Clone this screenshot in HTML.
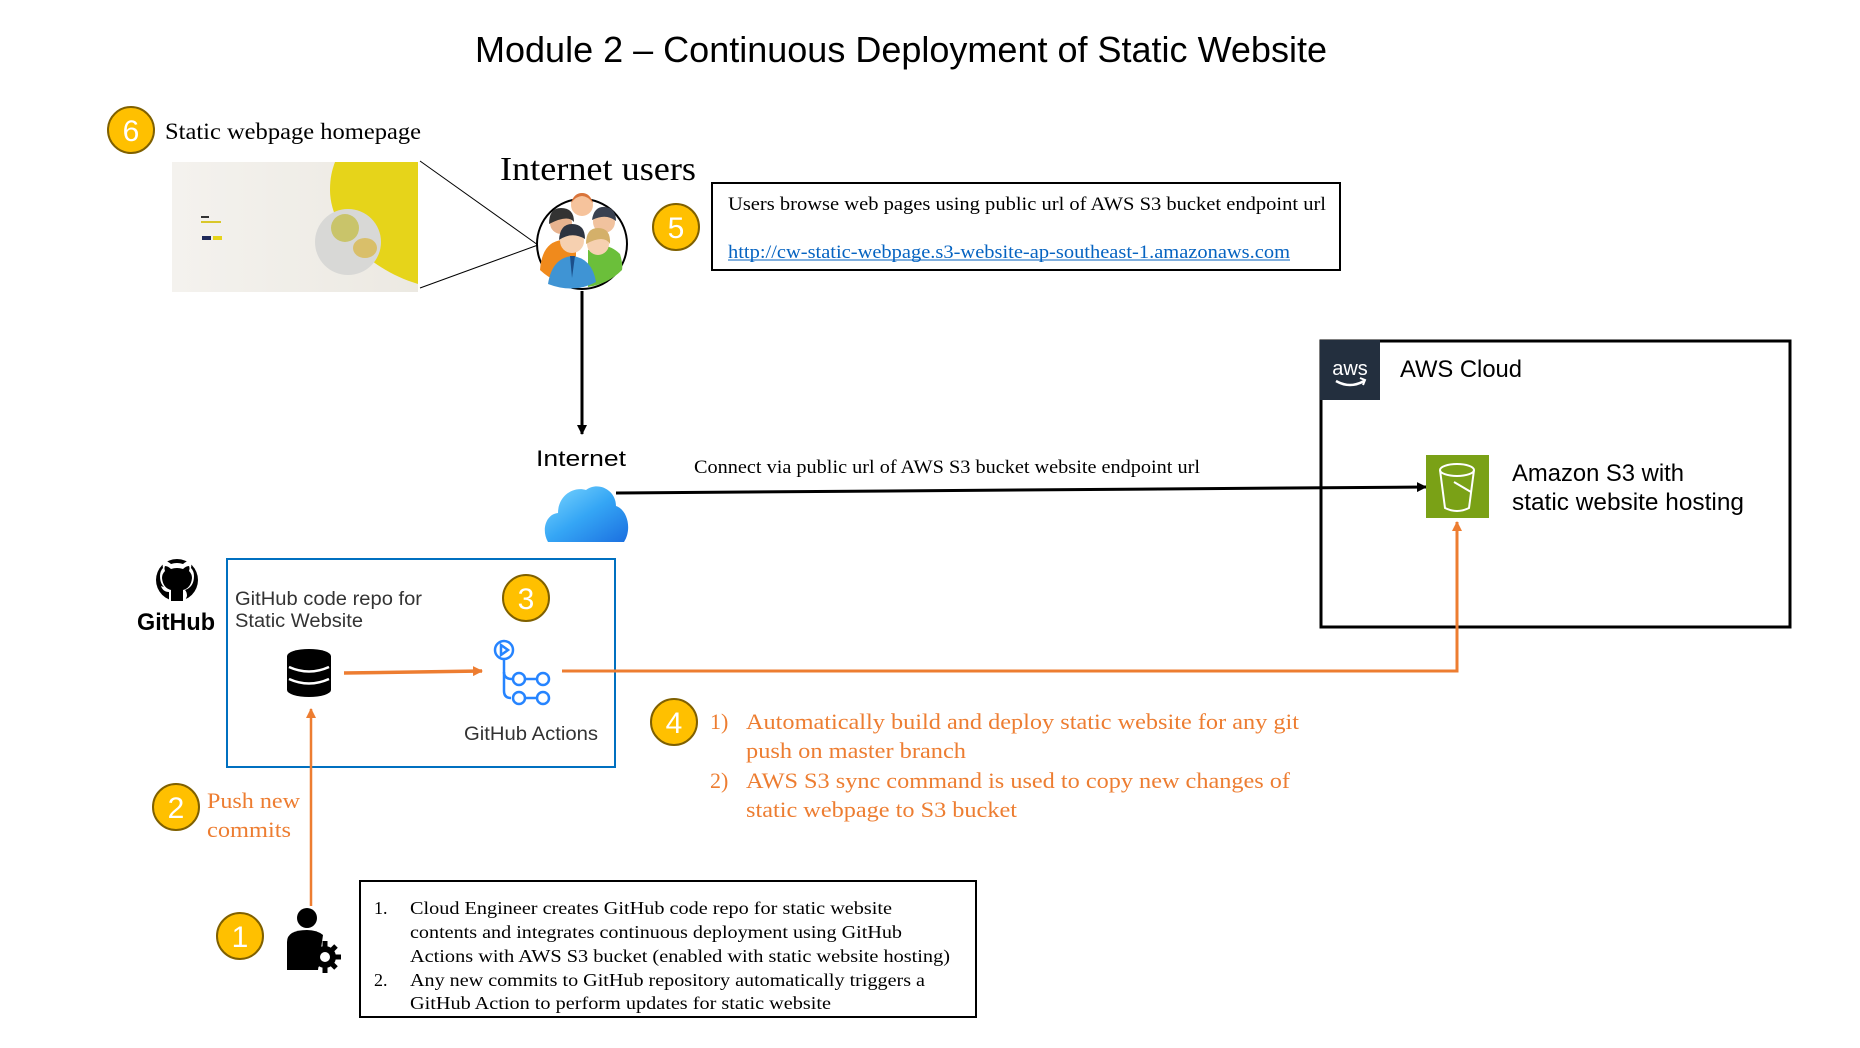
<!DOCTYPE html>
<html><head><meta charset="utf-8"><style>
html,body{margin:0;padding:0;background:#fff;}
svg{display:block}
.serif{font-family:"Liberation Serif",serif}
.sans{font-family:"Liberation Sans",sans-serif}
</style></head><body>
<svg width="1860" height="1048" viewBox="0 0 1860 1048" xmlns="http://www.w3.org/2000/svg">
<defs>
<marker id="ab" markerWidth="10" markerHeight="10" refX="9" refY="5" orient="auto" markerUnits="userSpaceOnUse"><path d="M0,0 L10,5 L0,10 z" fill="#000"/></marker>
<marker id="ao" markerWidth="10" markerHeight="10" refX="9" refY="5" orient="auto" markerUnits="userSpaceOnUse"><path d="M0,0 L10,5 L0,10 z" fill="#ED7D31"/></marker>
<linearGradient id="cg" x1="0" y1="0" x2="1" y2="1"><stop offset="0" stop-color="#7fd8ff"/><stop offset="0.5" stop-color="#35a6f5"/><stop offset="1" stop-color="#1b6fe0"/></linearGradient>
<linearGradient id="yb" x1="0" y1="0" x2="1" y2="0"><stop offset="0" stop-color="#f4f2ee"/><stop offset="1" stop-color="#ece9e2"/></linearGradient>
</defs>

<text x="475" y="62" class="sans" font-size="36" textLength="852" lengthAdjust="spacingAndGlyphs">Module 2 – Continuous Deployment of Static Website</text>

<circle cx="131" cy="130" r="23" fill="#FFC000" stroke="#7F6000" stroke-width="2"/>
<text x="131" y="141" text-anchor="middle" class="sans" font-size="30" fill="#fff">6</text>
<text x="165" y="139" class="serif" font-size="23" textLength="256" lengthAdjust="spacingAndGlyphs">Static webpage homepage</text>

<rect x="172" y="162" width="246" height="130" fill="url(#yb)"/>
<path d="M335,162 L418,162 L418,284 C370,270 330,230 330,190 C330,178 332,170 335,162 z" fill="#e6d41a"/>
<circle cx="348" cy="242" r="33" fill="#d8d8d6"/>
<circle cx="345" cy="228" r="14" fill="#c9c46a"/>
<ellipse cx="365" cy="248" rx="12" ry="10" fill="#d9bf6a"/>
<rect x="201" y="216" width="8" height="2" fill="#333"/>
<rect x="201" y="221" width="20" height="2" fill="#d9c72a"/>
<rect x="202" y="236" width="9" height="4" fill="#1f2a5a"/>
<rect x="213" y="236" width="9" height="4" fill="#e6d41a"/>

<line x1="420" y1="161" x2="538" y2="245" stroke="#000" stroke-width="1"/>
<line x1="420" y1="288" x2="538" y2="245" stroke="#000" stroke-width="1"/>

<text x="500" y="180" class="serif" font-size="34" textLength="196" lengthAdjust="spacingAndGlyphs">Internet users</text>

<circle cx="582" cy="244" r="45" fill="#fff" stroke="#000" stroke-width="2"/>
<g>
<circle cx="582" cy="205" r="11" fill="#f6c39c"/><path d="M571,203 q11,-14 22,0 q-3,-10 -11,-10 q-8,0 -11,10z" fill="#d9743a"/>
<circle cx="561" cy="223" r="11" fill="#e8b38f"/><path d="M549,224 q0,-16 12,-16 q13,0 13,14 q-6,-8 -25,2z" fill="#333"/>
<circle cx="604" cy="222" r="11" fill="#f1c29e"/><path d="M592,220 q2,-14 13,-13 q11,1 11,14 q-10,-8 -24,-1z" fill="#3a4150"/>
<path d="M540,270 q2,-28 22,-30 q8,0 14,10 l0,35 q-20,0 -36,-15z" fill="#f08a1c"/>
<path d="M588,250 q18,-10 32,4 q3,10 2,16 q-14,14 -34,17z" fill="#6bbf3a"/>
<circle cx="572" cy="241" r="12" fill="#f6d0b0"/><path d="M559,240 q1,-16 13,-16 q13,0 13,15 q-13,-8 -26,1z" fill="#2e3440"/>
<circle cx="598" cy="244" r="11" fill="#f6d0b0"/><path d="M586,244 q0,-16 12,-16 q13,0 12,16 q-6,-10 -24,0z" fill="#d4b06a"/>
<path d="M548,284 q4,-26 24,-28 q20,2 24,26 q-22,12 -48,2z" fill="#3f94d4"/>
<path d="M570,256 l2,22 l3,-22z" fill="#1b4f8a"/>
</g>

<circle cx="676" cy="227" r="23" fill="#FFC000" stroke="#7F6000" stroke-width="2"/>
<text x="676" y="238" text-anchor="middle" class="sans" font-size="30" fill="#fff">5</text>
<rect x="712" y="183" width="628" height="87" fill="#fff" stroke="#000" stroke-width="2"/>
<text x="728" y="210" class="serif" font-size="19" textLength="598" lengthAdjust="spacingAndGlyphs">Users browse web pages using public url of AWS S3 bucket endpoint url</text>
<text x="728" y="258" class="serif" font-size="19" fill="#0563C1" textLength="562" lengthAdjust="spacingAndGlyphs">http://cw-static-webpage.s3-website-ap-southeast-1.amazonaws.com</text>
<line x1="728" y1="260" x2="1290" y2="260" stroke="#0563C1" stroke-width="1"/>

<line x1="582" y1="291" x2="582" y2="434" stroke="#000" stroke-width="3" marker-end="url(#ab)"/>
<text x="581" y="466" text-anchor="middle" class="sans" font-size="22" textLength="90" lengthAdjust="spacingAndGlyphs">Internet</text>

<path d="M548,542 C541,530 546,514 558,513 C558,497 572,486 586,490 C598,481 616,490 616,506 C628,510 632,530 624,542 z" fill="url(#cg)"/>

<text x="694" y="473" class="serif" font-size="19" textLength="506" lengthAdjust="spacingAndGlyphs">Connect via public url of AWS S3 bucket website endpoint url</text>
<line x1="616" y1="493" x2="1426" y2="487" stroke="#000" stroke-width="3" marker-end="url(#ab)"/>

<rect x="1321" y="341" width="469" height="286" fill="none" stroke="#000" stroke-width="3"/>
<rect x="1320" y="340" width="60" height="60" fill="#232F3E"/>
<text x="1350" y="375" text-anchor="middle" class="sans" font-size="20" fill="#fff">aws</text>
<path d="M1336,381 q14,8 28,0" stroke="#fff" stroke-width="2.5" fill="none"/>
<path d="M1360,378 l5,2 l-2,5" stroke="#fff" stroke-width="2" fill="none"/>
<text x="1400" y="377" class="sans" font-size="24" textLength="122" lengthAdjust="spacingAndGlyphs">AWS Cloud</text>

<rect x="1426" y="455" width="63" height="63" fill="#7AA116"/>
<ellipse cx="1457" cy="470" rx="17" ry="6" fill="none" stroke="#fff" stroke-width="2"/>
<path d="M1440,470 L1445,508 q12,6 24,0 L1474,470" fill="none" stroke="#fff" stroke-width="2"/>
<path d="M1454,482 l17,10" stroke="#fff" stroke-width="2"/>
<text x="1512" y="481" class="sans" font-size="24" textLength="172" lengthAdjust="spacingAndGlyphs">Amazon S3 with</text>
<text x="1512" y="510" class="sans" font-size="24" textLength="232" lengthAdjust="spacingAndGlyphs">static website hosting</text>

<g transform="translate(155,558)">
<circle cx="22" cy="22" r="21" fill="#000"/>
<path d="M14,43 L14,34 q-6,0 -8,-6 q6,2 8,4 q-9,-3 -9,-14 q0,-5 3,-8 q-1,-4 1,-7 q4,0 7,3 q6,-2 12,0 q3,-3 7,-3 q2,3 1,7 q3,3 3,8 q0,11 -9,14 q2,2 2,6 L30,43z" fill="#fff"/>
<path d="M16,43 L16,32 q-8,-2 -9,-12 q0,-4 3,-7 q-1,-3 0,-5 q3,0 6,3 q6,-2 12,0 q3,-3 6,-3 q1,2 0,5 q3,3 3,7 q-1,10 -9,12 l0,11z" fill="#000"/>
</g>
<text x="176" y="630" text-anchor="middle" class="sans" font-size="24" font-weight="bold" textLength="78" lengthAdjust="spacingAndGlyphs">GitHub</text>

<rect x="227" y="559" width="388" height="208" fill="none" stroke="#0070C0" stroke-width="2"/>
<text x="235" y="605" class="sans" font-size="19" fill="#333" textLength="187" lengthAdjust="spacingAndGlyphs">GitHub code repo for</text>
<text x="235" y="627" class="sans" font-size="19" fill="#333" textLength="128" lengthAdjust="spacingAndGlyphs">Static Website</text>

<circle cx="526" cy="598" r="23" fill="#FFC000" stroke="#7F6000" stroke-width="2"/>
<text x="526" y="609" text-anchor="middle" class="sans" font-size="30" fill="#fff">3</text>

<g fill="#000">
<ellipse cx="309" cy="656" rx="22" ry="7"/>
<rect x="287" y="656" width="44" height="34"/>
<ellipse cx="309" cy="690" rx="22" ry="7"/>
</g>
<path d="M289,667 q20,9 40,0 M289,679 q20,9 40,0" stroke="#fff" stroke-width="2.5" fill="none"/>

<line x1="344" y1="673" x2="482" y2="671" stroke="#ED7D31" stroke-width="3.5" marker-end="url(#ao)"/>

<g stroke="#2684FF" stroke-width="2.5" fill="none">
<circle cx="504" cy="650" r="9"/>
<path d="M501,645 l7,5 l-7,5z" fill="none"/>
<path d="M504,659 L504,691 q0,7 7,7"/>
<path d="M504,672 q0,7 8,7"/>
<circle cx="519" cy="679" r="6"/><circle cx="543" cy="679" r="6"/>
<line x1="525" y1="679" x2="537" y2="679"/>
<circle cx="519" cy="698" r="6"/><circle cx="543" cy="698" r="6"/>
<line x1="525" y1="698" x2="537" y2="698"/>
</g>
<text x="464" y="740" class="sans" font-size="19" fill="#333" textLength="134" lengthAdjust="spacingAndGlyphs">GitHub Actions</text>

<polyline points="562,671 1457,671 1457,522" fill="none" stroke="#ED7D31" stroke-width="3" marker-end="url(#ao)"/>

<circle cx="674" cy="722" r="23" fill="#FFC000" stroke="#7F6000" stroke-width="2"/>
<text x="674" y="733" text-anchor="middle" class="sans" font-size="30" fill="#fff">4</text>
<g class="serif" font-size="22" fill="#ED7D31">
<text x="710" y="729">1)</text>
<text x="746" y="729" textLength="553" lengthAdjust="spacingAndGlyphs">Automatically build and deploy static website for any git</text>
<text x="746" y="758" textLength="220" lengthAdjust="spacingAndGlyphs">push on master branch</text>
<text x="710" y="788">2)</text>
<text x="746" y="788" textLength="544" lengthAdjust="spacingAndGlyphs">AWS S3 sync command is used to copy new changes of</text>
<text x="746" y="817" textLength="271" lengthAdjust="spacingAndGlyphs">static webpage to S3 bucket</text>
</g>

<circle cx="176" cy="807" r="23" fill="#FFC000" stroke="#7F6000" stroke-width="2"/>
<text x="176" y="818" text-anchor="middle" class="sans" font-size="30" fill="#fff">2</text>
<text x="207" y="808" class="serif" font-size="22" fill="#ED7D31" textLength="93" lengthAdjust="spacingAndGlyphs">Push new</text>
<text x="207" y="837" class="serif" font-size="22" fill="#ED7D31" textLength="84" lengthAdjust="spacingAndGlyphs">commits</text>

<line x1="311" y1="906" x2="311" y2="709" stroke="#ED7D31" stroke-width="2.5" marker-end="url(#ao)"/>

<circle cx="240" cy="936" r="23" fill="#FFC000" stroke="#7F6000" stroke-width="2"/>
<text x="240" y="947" text-anchor="middle" class="sans" font-size="30" fill="#fff">1</text>

<circle cx="307" cy="918" r="10" fill="#000"/>
<path d="M287,970 L287,942 q0,-12 20,-12 q10,0 16,5 L318,970z" fill="#000"/>
<circle cx="325" cy="957" r="11" fill="#000"/>
<g stroke="#000" stroke-width="5"><line x1="325" y1="941" x2="325" y2="973"/><line x1="309" y1="957" x2="341" y2="957"/><line x1="314" y1="946" x2="336" y2="968"/><line x1="336" y1="946" x2="314" y2="968"/></g>
<circle cx="325" cy="957" r="5" fill="#fff"/>

<rect x="360" y="881" width="616" height="136" fill="#fff" stroke="#000" stroke-width="2"/>
<g class="serif" font-size="18">
<text x="374" y="914">1.</text>
<text x="410" y="914" textLength="482" lengthAdjust="spacingAndGlyphs">Cloud Engineer creates GitHub code repo for static website</text>
<text x="410" y="938" textLength="492" lengthAdjust="spacingAndGlyphs">contents and integrates continuous deployment using GitHub</text>
<text x="410" y="962" textLength="540" lengthAdjust="spacingAndGlyphs">Actions with AWS S3 bucket (enabled with static website hosting)</text>
<text x="374" y="986">2.</text>
<text x="410" y="986" textLength="515" lengthAdjust="spacingAndGlyphs">Any new commits to GitHub repository automatically triggers a</text>
<text x="410" y="1009" textLength="421" lengthAdjust="spacingAndGlyphs">GitHub Action to perform updates for static website</text>
</g>
</svg>
</body></html>
